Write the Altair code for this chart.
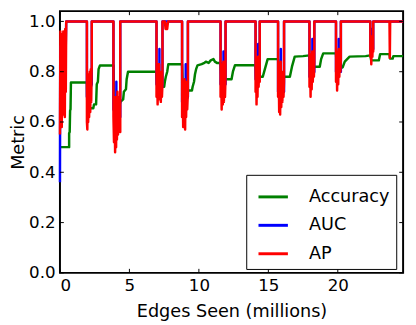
import altair as alt
import pandas as pd

# ---------------- data ----------------
series_names = ["Accuracy", "AUC", "AP"]
series_colors = ["#008000", "#0000ff", "#ff0000"]

x_ticks = [0, 5, 10, 15, 20]
y_ticks = [0.0, 0.2, 0.4, 0.6, 0.8, 1.0]
x_max = 24.7
y_max = 1.041

acc_x = [0.0, 0.66, 0.66, 0.70, 0.73, 0.76, 0.79,
         1.94, 1.97, 2.40, 2.45, 2.60, 2.65, 2.73, 2.78, 2.88,
         3.85, 3.90, 4.30, 4.35, 4.55, 4.60, 4.75, 4.80, 4.90,
         6.95, 7.00, 7.50, 7.55, 7.62, 7.72, 7.80,
         8.79, 8.85, 9.50, 9.55, 9.65, 9.72, 9.80, 9.90, 10.20, 10.40, 10.50, 10.70, 10.85, 11.05, 11.15, 11.30,
         11.56, 11.62, 12.35, 12.45, 12.60,
         14.08, 14.12, 14.60, 14.75, 14.95,
         15.70, 15.78, 16.55, 16.70, 16.90, 17.50,
         17.96, 18.00, 18.70, 18.80, 18.95,
         19.87, 19.92, 20.35, 20.50, 20.85, 22.00,
         22.34, 22.40, 22.95, 23.05,
         23.72, 23.76, 23.95, 24.00, 24.70]
acc_y = [0.500, 0.500, 0.555, 0.560, 0.645, 0.650, 0.757,
         0.757, 0.655, 0.655, 0.670, 0.670, 0.750, 0.760, 0.810, 0.825,
         0.825, 0.670, 0.670, 0.680, 0.690, 0.720, 0.730, 0.770, 0.800,
         0.800, 0.740, 0.740, 0.760, 0.780, 0.800, 0.830,
         0.830, 0.725, 0.725, 0.740, 0.760, 0.790, 0.810, 0.825, 0.830, 0.835, 0.840, 0.835, 0.845, 0.850, 0.840, 0.835,
         0.835, 0.770, 0.770, 0.800, 0.826,
         0.826, 0.780, 0.780, 0.810, 0.850,
         0.850, 0.780, 0.780, 0.820, 0.860, 0.862,
         0.865, 0.820, 0.820, 0.850, 0.873,
         0.873, 0.817, 0.817, 0.840, 0.860, 0.862,
         0.865, 0.845, 0.845, 0.870,
         0.870, 0.852, 0.852, 0.862, 0.862]

auc_x = [0.0, 0.02, 0.20, 0.40, 0.45,
         1.94, 1.94, 2.29, 2.29,
         3.85, 3.85, 4.06, 4.06, 4.06, 4.34, 4.34,
         6.95, 6.95, 7.16, 7.16, 7.16, 7.38, 7.38,
         8.79, 8.79, 9.05, 9.05, 9.05, 9.21, 9.21,
         11.56, 11.56, 11.77, 11.77, 11.77, 11.92, 11.92,
         14.08, 14.08, 14.27, 14.27, 14.27, 14.38, 14.38,
         15.70, 15.70, 15.90, 15.90, 15.90, 16.13, 16.13,
         17.96, 17.96, 18.17, 18.17, 18.17, 18.31, 18.31,
         19.87, 19.87, 20.07, 20.07, 20.07, 20.22, 20.22,
         22.34, 22.34, 22.46, 22.46, 22.46, 22.55, 22.55,
         24.70]
auc_y = [0.36, 0.90, 0.80, 0.85, 1.00,
         1.00, 0.70, 0.75, 1.00,
         1.00, 0.65, 0.62, 0.76, 0.62, 0.62, 1.00,
         1.00, 0.75, 0.75, 0.89, 0.75, 0.74, 1.00,
         1.00, 0.68, 0.68, 0.83, 0.68, 0.70, 1.00,
         1.00, 0.75, 0.75, 0.88, 0.75, 0.75, 1.00,
         1.00, 0.77, 0.77, 0.91, 0.77, 0.78, 1.00,
         1.00, 0.72, 0.72, 0.89, 0.72, 0.72, 1.00,
         1.00, 0.78, 0.78, 0.93, 0.78, 0.80, 1.00,
         1.00, 0.80, 0.80, 0.93, 0.80, 0.80, 1.00,
         1.00, 0.88, 0.88, 0.97, 0.88, 0.89, 1.00,
         1.00]

ap_x = [0.00, 0.03, 0.06, 0.10, 0.13, 0.17, 0.20, 0.24, 0.28, 0.31, 0.35, 0.38, 0.42, 0.45,
        1.94, 1.94, 1.97, 2.00, 2.03, 2.07, 2.10, 2.14, 2.18, 2.22, 2.25, 2.29, 2.29,
        3.85, 3.85, 3.89, 3.93, 3.97, 4.00, 4.04, 4.07, 4.10, 4.14, 4.18, 4.22, 4.26, 4.30, 4.34, 4.34,
        6.95, 6.95, 6.99, 7.03, 7.07, 7.10, 7.14, 7.18, 7.22, 7.26, 7.30, 7.34, 7.38, 7.38,
        7.55, 7.60, 7.65, 7.72, 7.78,
        8.79, 8.79, 8.83, 8.87, 8.90, 8.94, 8.97, 9.01, 9.04, 9.08, 9.12, 9.16, 9.21, 9.21,
        11.56, 11.56, 11.60, 11.64, 11.68, 11.72, 11.76, 11.80, 11.84, 11.88, 11.92, 11.92,
        14.08, 14.08, 14.12, 14.15, 14.19, 14.22, 14.26, 14.30, 14.34, 14.38, 14.38,
        15.70, 15.70, 15.74, 15.78, 15.82, 15.85, 15.89, 15.93, 15.97, 16.01, 16.05, 16.09, 16.13, 16.13,
        17.96, 17.96, 18.00, 18.04, 18.08, 18.12, 18.16, 18.20, 18.24, 18.28, 18.31, 18.31,
        19.87, 19.87, 19.91, 19.95, 19.99, 20.03, 20.07, 20.11, 20.15, 20.19, 20.22, 20.22,
        22.34, 22.34, 22.38, 22.41, 22.45, 22.49, 22.52, 22.55, 22.55,
        23.72, 23.745, 23.77,
        24.70]
ap_y = [0.55, 0.96, 0.62, 0.95, 0.58, 0.93, 0.63, 0.96, 0.66, 0.94, 0.62, 0.97, 0.72, 1.00,
        1.00, 0.60, 0.57, 0.77, 0.60, 0.79, 0.62, 0.80, 0.64, 0.81, 0.68, 0.83, 1.00,
        1.00, 0.62, 0.52, 0.70, 0.48, 0.69, 0.50, 0.70, 0.53, 0.72, 0.55, 0.70, 0.57, 0.68, 0.56, 1.00,
        1.00, 0.70, 0.82, 0.67, 0.83, 0.69, 0.83, 0.70, 0.80, 0.68, 0.78, 0.70, 0.75, 1.00,
        1.00, 0.97, 0.99, 0.97, 1.00,
        1.00, 0.62, 0.75, 0.58, 0.76, 0.60, 0.77, 0.57, 0.76, 0.62, 0.74, 0.65, 0.72, 1.00,
        1.00, 0.70, 0.82, 0.65, 0.83, 0.67, 0.84, 0.68, 0.80, 0.70, 0.78, 1.00,
        1.00, 0.72, 0.84, 0.67, 0.85, 0.70, 0.86, 0.74, 0.82, 0.76, 1.00,
        1.00, 0.70, 0.82, 0.64, 0.83, 0.63, 0.84, 0.66, 0.80, 0.68, 0.78, 0.70, 0.76, 1.00,
        1.00, 0.74, 0.86, 0.70, 0.87, 0.73, 0.88, 0.76, 0.85, 0.78, 0.84, 1.00,
        1.00, 0.76, 0.87, 0.725, 0.88, 0.75, 0.89, 0.78, 0.86, 0.80, 0.85, 1.00,
        1.00, 0.86, 0.93, 0.83, 0.94, 0.86, 0.92, 0.88, 1.00,
        1.00, 0.855, 1.00,
        1.00]

# ---------------- build tables ----------------
def table(name, xs, ys):
    return pd.DataFrame({"series": name, "x": xs, "y": ys, "order": list(range(len(xs)))})

df_acc = table("Accuracy", acc_x, acc_y)
df_auc = table("AUC", auc_x, auc_y)
df_ap = table("AP", ap_x, ap_y)

FONT = "DejaVu Sans"
tick_len_y = 0.016
tick_len_x = 0.28

x_scale = alt.Scale(domain=[0, x_max], nice=False, zero=False)
y_scale = alt.Scale(domain=[0, y_max], nice=False, zero=False)
color_scale = alt.Scale(domain=series_names, range=series_colors)

legend = alt.Legend(
    title=None, orient="none", legendX=190, legendY=167,
    symbolType="stroke", symbolSize=900, symbolStrokeWidth=3, symbolOffset=5,
    labelFont=FONT, labelFontSize=18, labelColor="black", labelOffset=20,
    padding=6, rowPadding=3, strokeColor="black", fillColor="white",
    cornerRadius=0,
)

x_enc = alt.X("x:Q", scale=x_scale,
              axis=alt.Axis(values=x_ticks, title="Edges Seen (millions)", format="d",
                            labelPadding=5, titlePadding=9))
y_enc = alt.Y("y:Q", scale=y_scale,
              axis=alt.Axis(values=y_ticks, title="Metric", format=".1f",
                            labelPadding=5, titlePadding=1))


def line_layer(df):
    return alt.Chart(df).mark_line(strokeWidth=2.5, strokeJoin="round").encode(
        x=x_enc, y=y_enc,
        color=alt.Color("series:N", scale=color_scale, legend=legend),
        order="order:Q",
    )

# inward tick marks on all four sides
bx = pd.DataFrame({"t": x_ticks, "a": [0.0] * len(x_ticks), "b": [tick_len_y] * len(x_ticks)})
tx = pd.DataFrame({"t": x_ticks, "a": [y_max] * len(x_ticks), "b": [y_max - tick_len_y] * len(x_ticks)})
ly = pd.DataFrame({"t": y_ticks, "a": [0.0] * len(y_ticks), "b": [tick_len_x] * len(y_ticks)})
ry = pd.DataFrame({"t": y_ticks, "a": [x_max] * len(y_ticks), "b": [x_max - tick_len_x] * len(y_ticks)})

def xticks_layer(df):
    return alt.Chart(df).mark_rule(color="black", strokeWidth=1).encode(
        x=alt.X("t:Q", scale=x_scale), y=alt.Y("a:Q", scale=y_scale), y2="b:Q")

def yticks_layer(df):
    return alt.Chart(df).mark_rule(color="black", strokeWidth=1).encode(
        y=alt.Y("t:Q", scale=y_scale), x=alt.X("a:Q", scale=x_scale), x2="b:Q")

chart = alt.layer(
    line_layer(df_acc), line_layer(df_auc), line_layer(df_ap),
    xticks_layer(bx), xticks_layer(tx), yticks_layer(ly), yticks_layer(ry),
).properties(
    width=350, height=267,
    autosize=alt.AutoSizeParams(type="none"),
    padding={"left": 53, "top": 0, "right": 5, "bottom": 50},
    background="white",
).configure_axis(
    labelFont=FONT, labelFontSize=17, labelColor="black",
    titleFont=FONT, titleFontSize=18, titleFontWeight="normal", titleColor="black",
    grid=False, domain=False, ticks=False, tickSize=0,
).configure_view(
    stroke="black", strokeWidth=2,
)

chart.save("out.html", embed_options={"renderer": "svg", "actions": False})
